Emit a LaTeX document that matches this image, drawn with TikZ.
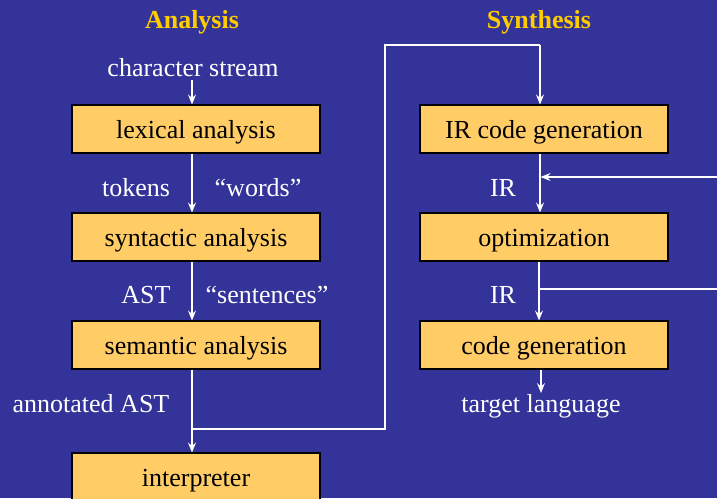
\documentclass[tikz,border=0pt]{standalone}
\usepackage{fontspec}
\setmainfont{Liberation Serif}
\usetikzlibrary{arrows.meta}
\definecolor{bg}{RGB}{51,51,153}
\definecolor{boxfill}{RGB}{255,204,102}
\definecolor{titlecol}{RGB}{255,204,0}
\begin{document}
\begin{tikzpicture}[x=1pt,y=-1pt,
  every node/.style={font=\fontsize{26}{30}\selectfont,text height=18pt,text depth=0pt},
  stage/.style={draw=black,line width=1.1pt,fill=boxfill,minimum width=248pt,minimum height=48pt,inner sep=0pt,text=black},
  lbl/.style={text=white,inner sep=0pt},
  ttl/.style={text=titlecol,inner sep=0pt,font=\fontsize{26}{30}\selectfont\bfseries},
  flow/.style={draw=white,line width=1.2pt,-{Stealth[length=10pt,width=8pt,inset=3.5pt]}},
  wire/.style={draw=white,line width=1.2pt}]
\useasboundingbox (0,0) rectangle (717,498);
\fill[bg] (0,0) rectangle (717,498);
% titles
\node[ttl] (tA) at (192,19) {Analysis};
\node[ttl] (tS) at (539,19) {Synthesis};
% left column
\node[lbl] (cs) at (193,67) {character stream};
\node[stage] (lex) at (196,129) {lexical analysis};
\node[stage] (syn) at (196,237) {syntactic analysis};
\node[stage] (sem) at (196,345) {semantic analysis};
\node[stage] (intp) at (196,477) {interpreter};
\node[lbl] (tok) at (136,187) {tokens};
\node[lbl] (wrd) at (258,187) {“words”};
\node[lbl] (ast) at (146,294) {AST};
\node[lbl] (snt) at (267,294) {“sentences”};
\node[lbl] (aast) at (91,403) {annotated AST};
% right column
\node[stage] (irg) at (544,129) {IR code generation};
\node[stage] (opt) at (544,237) {optimization};
\node[stage] (cg) at (544,345) {code generation};
\node[lbl] (ir1) at (503,187) {IR};
\node[lbl] (ir2) at (503,294) {IR};
\node[lbl] (tl) at (541,403) {target language};
% connectors
\draw[flow] (192,80) -- (192,104.5);
\draw[flow] (192,153.5) -- (192,212.5);
\draw[flow] (192,261.5) -- (192,320.5);
\draw[flow] (192,369.5) -- (192,452.5);
\coordinate (j1) at (192,429);
\coordinate (c1) at (385,429);
\coordinate (c2) at (385,45);
\coordinate (c3) at (540,45);
\draw[wire] (j1) -- (c1) -- (c2) -- (c3);
\draw[flow] (c3) -- (540,104.5);
\draw[flow] (540,153.5) -- (540,212.5);
\coordinate (fbR) at (717,177);
\coordinate (fbL) at (540.6,177);
\draw[flow] (fbR) -- (fbL);
\draw[flow] (539,261.5) -- (539,320.5);
\coordinate (oR) at (717,289);
\draw[wire] (539,289) -- (oR);
\draw[flow] (541,369.5) -- (541,393);
\end{tikzpicture}
\end{document}
